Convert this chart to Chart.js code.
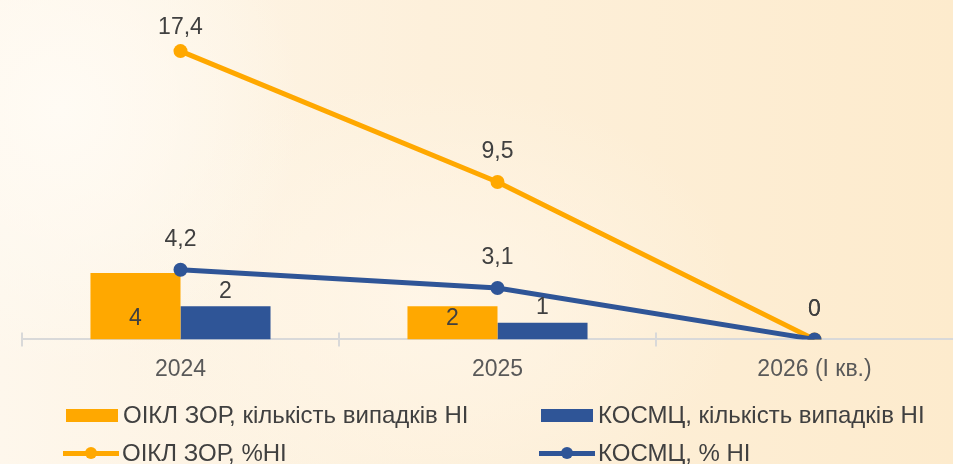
<!DOCTYPE html>
<html>
<head>
<meta charset="utf-8">
<script src="https://cdn.jsdelivr.net/npm/chart.js@4.4.1/dist/chart.umd.min.js"></script>
<style>
  html, body { margin: 0; padding: 0; }
  body {
    width: 953px; height: 464px; overflow: hidden; position: relative;
    font-family: "Liberation Sans", Arial, sans-serif;
    background:
      radial-gradient(ellipse 240px 260px at 60px 110px, rgba(255,251,244,1) 0%, rgba(255,250,240,0) 100%),
      radial-gradient(ellipse 320px 220px at 420px 300px, rgba(255,246,232,0.9) 0%, rgba(255,246,232,0) 100%),
      linear-gradient(90deg, #fef7ec 0%, #fdf0db 45%, #fdebcd 100%);
  }
  #wrap { position: absolute; left: 0; top: 0; width: 980px; height: 407px; }
  #legend { position: absolute; left: 0; top: 0; width: 953px; height: 464px; pointer-events: none; }
  .item { position: absolute; display: flex; align-items: center; height: 28px; font-size: 24px; color: #404040; white-space: nowrap; }
  .sw-bar { width: 52px; height: 13px; margin-right: 5px; }
  .sw-line { position: relative; width: 56px; height: 12px; margin-right: 3px; }
  .sw-line .ln { position: absolute; left: 0; right: 0; top: 4px; height: 5px; }
  .sw-line .pt { position: absolute; left: 22px; top: 0; width: 12px; height: 12px; border-radius: 50%; }
</style>
</head>
<body>
<div id="wrap"><canvas id="chart"></canvas></div>
<div id="legend"></div>
<script>
const ORANGE = '#FFA800';
const BLUE = '#2F5597';

const years = ['2024', '2025', '2026 (I кв.)'];
const oiklCases = [4, 2, null];
const kosmtsCases = [2, 1, null];
const oiklPct = [17.4, 9.5, 0];
const kosmtsPct = [4.2, 3.1, 0];

const fmt = v => String(v).replace('.', ',');

// value labels drawn next to each bar / point
const valueLabels = {
  id: 'valueLabels',
  afterDatasetsDraw(chart) {
    const ctx = chart.ctx;
    ctx.save();
    ctx.font = '23px "Liberation Sans", Arial, sans-serif';
    ctx.fillStyle = '#404040';
    ctx.textAlign = 'center';
    ctx.textBaseline = 'middle';
    chart.data.datasets.forEach((ds, i) => {
      const meta = chart.getDatasetMeta(i);
      meta.data.forEach((el, j) => {
        const v = ds.data[j];
        if (v === null || v === undefined) return;
        let y;
        if (ds.type === 'line') y = Math.max(el.y - 30, 28);
        else if (ds.labelPos === 'inside') y = el.base - 21;
        else y = el.y - 15;
        ctx.fillText(fmt(v), el.x, y);
      });
    });
    ctx.restore();
  }
};

// small tick marks crossing the category axis
const axisTicks = {
  id: 'axisTicks',
  afterDraw(chart) {
    const x = chart.scales.x;
    const n = chart.data.labels.length;
    const step = (x.right - x.left) / n;
    const ctx = chart.ctx;
    ctx.save();
    ctx.strokeStyle = '#d9d9d9';
    ctx.lineWidth = 2;
    for (let i = 0; i <= n; i++) {
      const px = x.left + i * step;
      ctx.beginPath();
      ctx.moveTo(px, x.top - 7);
      ctx.lineTo(px, x.top + 7);
      ctx.stroke();
    }
    ctx.restore();
  }
};

const chart = new Chart(document.getElementById('chart'), {
  data: {
    labels: years,
    datasets: [
      {
        type: 'line', label: 'КОСМЦ, % НІ', data: kosmtsPct, order: 1,
        borderColor: BLUE, backgroundColor: BLUE, borderWidth: 5,
        pointRadius: 7, pointHoverRadius: 7, pointBorderWidth: 0
      },
      {
        type: 'line', label: 'ОІКЛ ЗОР, %НІ', data: oiklPct, order: 2,
        borderColor: ORANGE, backgroundColor: ORANGE, borderWidth: 5,
        pointRadius: 7, pointHoverRadius: 7, pointBorderWidth: 0
      },
      {
        type: 'bar', label: 'ОІКЛ ЗОР, кількість випадків НІ', data: oiklCases, order: 3,
        backgroundColor: ORANGE, labelPos: 'inside',
        categoryPercentage: 0.568, barPercentage: 1
      },
      {
        type: 'bar', label: 'КОСМЦ, кількість випадків НІ', data: kosmtsCases, order: 3,
        backgroundColor: BLUE, labelPos: 'outside',
        categoryPercentage: 0.568, barPercentage: 1
      }
    ]
  },
  options: {
    responsive: true,
    maintainAspectRatio: false,
    animation: false,
    layout: { padding: { left: 22, right: 7, top: 8, bottom: 8 } },
    plugins: { legend: { display: false }, tooltip: { enabled: false } },
    scales: {
      x: {
        grid: { display: false, drawTicks: false },
        border: { display: true, color: '#d9d9d9', width: 2 },
        ticks: { color: '#595959', padding: 16, font: { family: '"Liberation Sans", Arial, sans-serif', size: 23 } }
      },
      y: { display: false, min: 0, max: 20 }
    }
  },
  plugins: [valueLabels, axisTicks]
});

// two-column legend below the plot
const legendOrder = [
  { ds: 2, left: 66, top: 401 },
  { ds: 3, left: 541, top: 401 },
  { ds: 1, left: 63, top: 439 },
  { ds: 0, left: 539, top: 439 }
];
const legendEl = document.getElementById('legend');
legendOrder.forEach(p => {
  const ds = chart.data.datasets[p.ds];
  const item = document.createElement('div');
  item.className = 'item';
  item.style.left = p.left + 'px';
  item.style.top = p.top + 'px';
  let sw;
  if (ds.type === 'bar') {
    sw = document.createElement('span');
    sw.className = 'sw-bar';
    sw.style.background = ds.backgroundColor;
  } else {
    sw = document.createElement('span');
    sw.className = 'sw-line';
    sw.innerHTML = '<span class="ln"></span><span class="pt"></span>';
    sw.querySelector('.ln').style.background = ds.borderColor;
    sw.querySelector('.pt').style.background = ds.borderColor;
  }
  item.appendChild(sw);
  item.appendChild(document.createTextNode(ds.label));
  legendEl.appendChild(item);
});
</script>
</body>
</html>
